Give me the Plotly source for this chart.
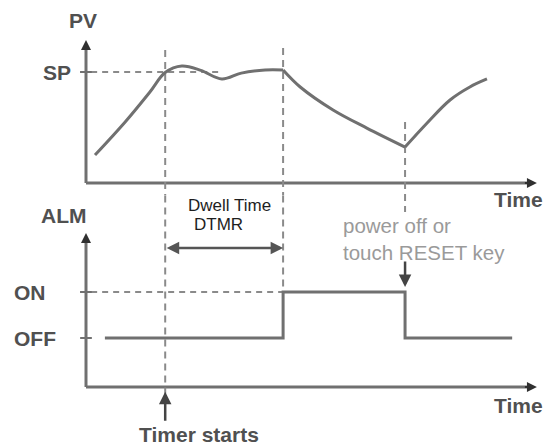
import plotly.graph_objects as go

# ---- data -----------------------------------------------------------------
# process value trajectory (time units, PV in % of set point)
pv_rise_t = [2.0, 8.7, 14.2, 17.6, 21.3, 25.5, 30.2, 34.5, 39.8, 43.8]
pv_rise_v = [25.2, 55.0, 82.0, 99.5, 105.4, 101.5, 93.7, 99.0, 101.8, 101.8]
pv_fall_t = [43.8, 47.6, 54.9, 62.4, 70.9]
pv_fall_v = [101.8, 86.5, 65.8, 49.5, 32.4]
pv_recover_t = [70.9, 75.8, 80.9, 85.3, 89.1]
pv_recover_v = [32.4, 54.1, 74.8, 86.5, 93.7]

SP = 100.0
t_timer_start = 17.6    # PV reaches SP, dwell timer starts
t_dwell_end = 43.8      # DTMR elapsed, alarm turns ON
t_reset = 70.9          # power off / RESET key, alarm turns OFF
t_end = 94.7

# alarm output states (0 = OFF, 1 = ON)
alm_t = [4.2, t_dwell_end, t_dwell_end, t_reset, t_reset, t_end]
alm_v = [0, 0, 1, 1, 0, 0]

# ---- styling / geometry -----------------------------------------------------
LINE = "#707070"
DASH = "#8a8a8a"
HEAD = "#303030"
LABEL = "#505050"
FONT = "Liberation Sans, Arial, sans-serif"

X_RANGE = [-19.11, 102.22]
PV_RANGE = [-237.84, 164.86]
ALM_RANGE = [-2.3696, 7.3478]
T_AXIS_END = 100.2
PV_AXIS_TOP = 128.8
ALM_AXIS_BOTTOM = -1.065
ALM_AXIS_TOP = 2.283

fig = go.Figure()


def seg(x, y, axis="y", color=LINE, width=3, dash="solid", shape="linear", smoothing=0):
    fig.add_trace(go.Scatter(
        x=x, y=y, yaxis=axis, mode="lines", hoverinfo="skip",
        line=dict(color=color, width=width, dash=dash, shape=shape, smoothing=smoothing),
    ))


# PV panel axes
seg([0, 0], [0, PV_AXIS_TOP - 4])
seg([0, T_AXIS_END - 2], [0, 0])
# ALM panel axes
seg([0, 0], [ALM_AXIS_BOTTOM, ALM_AXIS_TOP - 0.1], axis="y2")
seg([0, T_AXIS_END - 2], [ALM_AXIS_BOTTOM, ALM_AXIS_BOTTOM], axis="y2")

# set point reference and level ticks
seg([-1.3, 30.2], [SP, SP], color=DASH, width=2, dash="6px,5px")
seg([-1.3, 1.3], [SP, SP], width=2)
seg([-1.3, t_dwell_end], [1, 1], axis="y2", color=DASH, width=2, dash="6px,5px")
seg([-1.3, 1.3], [1, 1], axis="y2", width=2)
seg([-1.3, 1.3], [0, 0], axis="y2", width=2)

# event markers
seg([t_timer_start, t_timer_start], [119.8, -11.0], color=DASH, width=2, dash="7px,5px")
seg([t_timer_start, t_timer_start], [3.1, -1.35], axis="y2", color=DASH, width=2, dash="7px,5px")
seg([t_dwell_end, t_dwell_end], [121.6, -11.0], color=DASH, width=2, dash="7px,5px")
seg([t_dwell_end, t_dwell_end], [3.1, 1.0], axis="y2", color=DASH, width=2, dash="7px,5px")
seg([t_reset, t_reset], [55.0, -26.1], color=DASH, width=2, dash="7px,5px")

# process value curve
seg(pv_rise_t, pv_rise_v, width=3, shape="spline", smoothing=1)
seg(pv_fall_t, pv_fall_v, width=3, shape="spline", smoothing=1)
seg(pv_recover_t, pv_recover_v, width=3, shape="spline", smoothing=1)

# alarm output
seg(alm_t, alm_v, axis="y2", width=3)

annotations = []


def arrow(x, y, ax, ay, yref="y", color=HEAD, width=2, side="end", head=2, size=1.0):
    annotations.append(dict(
        x=x, y=y, ax=ax, ay=ay, xref="x", yref=yref, axref="x", ayref=yref,
        text="", showarrow=True, arrowhead=head, arrowsize=size, arrowwidth=width,
        arrowcolor=color, arrowside=side, startarrowhead=head, startarrowsize=size,
    ))


# axis arrowheads
arrow(0, PV_AXIS_TOP, 0, PV_AXIS_TOP - 8)
arrow(T_AXIS_END, 0, T_AXIS_END - 3, 0)
arrow(0, ALM_AXIS_TOP, 0, ALM_AXIS_TOP - 0.2, yref="y2")
arrow(T_AXIS_END, ALM_AXIS_BOTTOM, T_AXIS_END - 3, ALM_AXIS_BOTTOM, yref="y2")

# dwell time span
arrow(t_dwell_end, 1.957, t_timer_start, 1.957, yref="y2", color="#555555", width=2.5, side="end+start")
# timer start and reset pointers
arrow(t_timer_start, -1.17, t_timer_start, -1.83, yref="y2", color="#444444", width=2.5)
arrow(t_reset, 1.109, t_reset, 1.696, yref="y2", color="#444444", width=2.5)


def label(text, x, y, yref="y", size=21, color=LABEL, bold=True, xanchor="center", yanchor="middle", align="left"):
    annotations.append(dict(
        x=x, y=y, xref="x", yref=yref, text=text, showarrow=False,
        xanchor=xanchor, yanchor=yanchor, align=align,
        font=dict(family=FONT, size=size, color=color, weight="bold" if bold else "normal"),
    ))


label("PV", -0.67, 146.8)
label("SP", -2.9, SP, xanchor="right")
label("Time", 96.2, -15.3)
label("ALM", -4.9, 2.67, yref="y2")
label("ON", -16.4, 1, yref="y2", xanchor="left")
label("OFF", -16.4, 0, yref="y2", xanchor="left")
label("Time", 96.2, -1.457, yref="y2")
label("Timer starts", 25.1, -2.09, yref="y2", size=21)
label("Dwell Time", 22.2, 2.89, yref="y2", size=17, color="#1e1e1e", bold=False, xanchor="left")
label("DTMR", 23.6, 2.46, yref="y2", size=17, color="#1e1e1e", bold=False, xanchor="left")
label("power off or<br>touch RESET key", 56.7, 2.16, yref="y2", size=20.5, color="#9a9a9a",
      bold=False, xanchor="left")

fig.update_layout(
    width=546, height=447,
    margin=dict(l=0, r=0, t=0, b=0),
    paper_bgcolor="white", plot_bgcolor="white",
    showlegend=False,
    annotations=annotations,
    xaxis=dict(range=X_RANGE, visible=False, fixedrange=True),
    yaxis=dict(range=PV_RANGE, visible=False, fixedrange=True),
    yaxis2=dict(range=ALM_RANGE, visible=False, overlaying="y", fixedrange=True),
)

fig.write_html("out.html", config={"displayModeBar": False})
